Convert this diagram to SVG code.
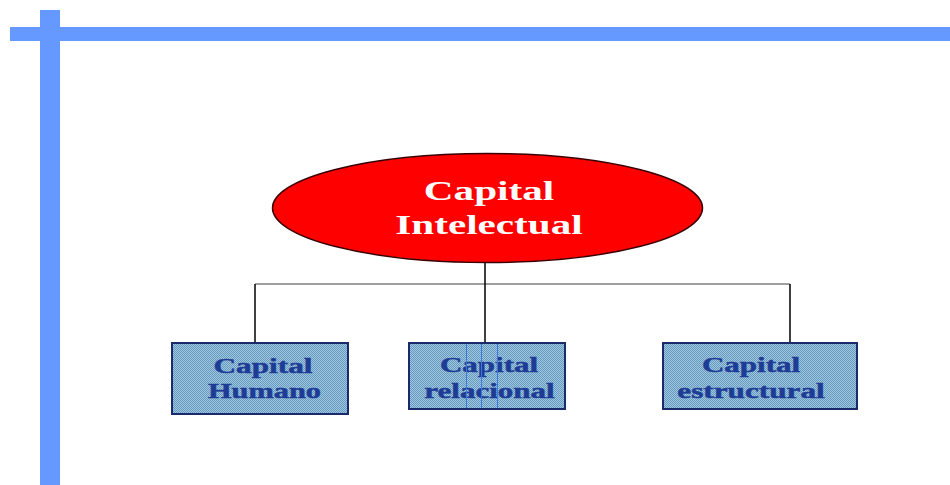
<svg xmlns="http://www.w3.org/2000/svg" width="950" height="485" viewBox="0 0 950 485">
  <defs>
    <pattern id="dither" width="2" height="2" patternUnits="userSpaceOnUse">
      <rect x="0" y="0" width="2" height="2" fill="#9cc8de"/>
      <rect x="0" y="0" width="1" height="1" fill="#6a98c0"/>
      <rect x="1" y="1" width="1" height="1" fill="#6a98c0"/>
    </pattern>
  </defs>
  <style>
    .bar { fill: #6699ff; }
    .box { fill: url(#dither); stroke: #1a2a6a; stroke-width: 2; }
    .btxt { font-family: "Liberation Serif", "Times New Roman", serif; font-weight: bold; font-size: 22px; fill: #1e3c96; stroke: #1e3c96; stroke-width: 0.5; text-anchor: middle; }
    .etxt { font-family: "Liberation Serif", "Times New Roman", serif; font-weight: bold; font-size: 28px; fill: #ffffff; text-anchor: middle; }
    .gray { stroke: #808080; stroke-width: 1.5; fill: none; }
    .blk { stroke: #000000; stroke-width: 1.5; fill: none; }
    .art { stroke: #3a7ae0; stroke-width: 1; }
  </style>
  <rect width="950" height="485" fill="#ffffff"/>
  <g id="frame">
    <rect class="bar" x="10" y="27" width="940" height="14"/>
    <rect class="bar" x="40" y="10" width="20" height="475"/>
  </g>
  <g id="connectors">
    <line class="gray" x1="255" y1="284" x2="790" y2="284"/>
    <line class="blk" x1="485" y1="262" x2="485" y2="343"/>
    <line class="blk" x1="255" y1="284" x2="255" y2="343"/>
    <line class="blk" x1="790" y1="284" x2="790" y2="343"/>
  </g>
  <g id="capital-intelectual">
    <ellipse cx="487.5" cy="208" rx="215" ry="54.5" fill="#ff0000" stroke="#3a0000" stroke-width="1.5"/>
    <text class="etxt" transform="translate(489,200) scale(1.47,1)">Capital</text>
    <text class="etxt" transform="translate(489,234) scale(1.47,1)">Intelectual</text>
  </g>
  <g id="capital-humano">
    <rect class="box" x="172" y="343" width="176" height="71"/>
    <text class="btxt" transform="translate(263,373) scale(1.42,1)">Capital</text>
    <text class="btxt" transform="translate(264.5,398) scale(1.38,1)">Humano</text>
  </g>
  <g id="capital-relacional">
    <rect class="box" x="409" y="343" width="156" height="66"/>
    <text class="btxt" transform="translate(489,372) scale(1.41,1)">Capital</text>
    <text class="btxt" transform="translate(489.5,398) scale(1.41,1)">relacional</text>
    <line class="art" x1="466.5" y1="344" x2="466.5" y2="408"/>
    <line class="art" x1="481.5" y1="344" x2="481.5" y2="408"/>
    <line class="art" x1="497.5" y1="344" x2="497.5" y2="408"/>
  </g>
  <g id="capital-estructural">
    <rect class="box" x="663" y="343" width="194" height="66"/>
    <text class="btxt" transform="translate(751,372) scale(1.41,1)">Capital</text>
    <text class="btxt" transform="translate(751,398) scale(1.42,1)">estructural</text>
  </g>
</svg>
